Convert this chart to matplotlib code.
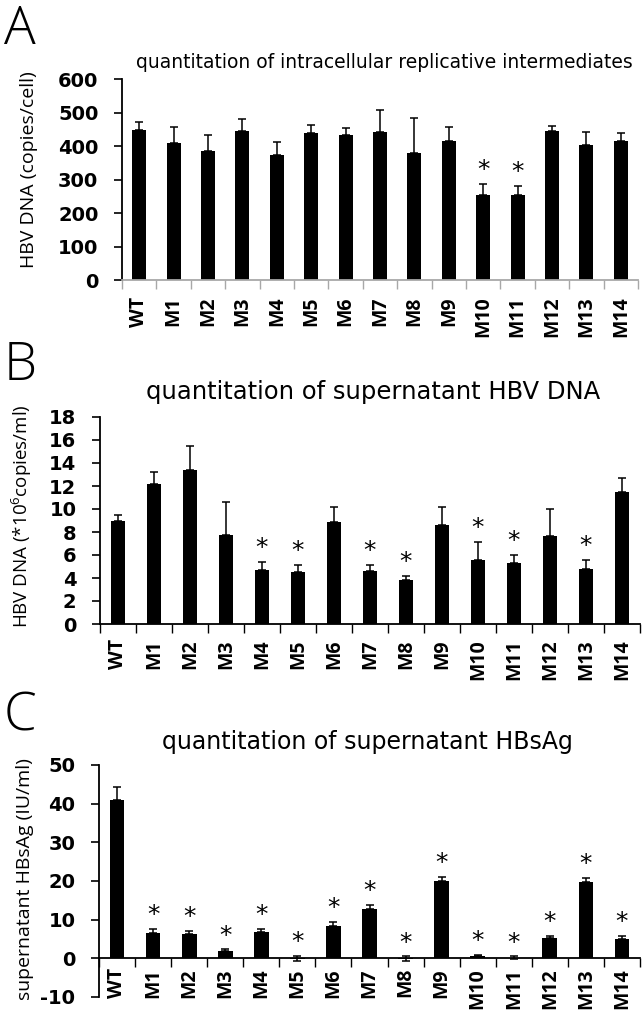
import numpy as np
import matplotlib
matplotlib.use("Agg")
import matplotlib.pyplot as plt

plt.rcParams['mathtext.default'] = 'regular'

# categories shared by the three panels
cats = ['WT', 'M1', 'M2', 'M3', 'M4', 'M5', 'M6', 'M7', 'M8', 'M9',
        'M10', 'M11', 'M12', 'M13', 'M14']

# A: intracellular replicative intermediates (copies/cell)
a_vals = [448, 408, 386, 446, 373, 438, 432, 441, 378, 414, 254, 254, 446, 404, 414]
a_err = [25, 50, 47, 34, 38, 24, 23, 66, 106, 44, 33, 26, 14, 37, 25]
a_star = ['M10', 'M11']

# B: supernatant HBV DNA (*10^6 copies/ml)
b_vals = [8.93, 12.2, 13.36, 7.71, 4.67, 4.49, 8.87, 4.58, 3.8, 8.58, 5.6, 5.3, 7.62, 4.78, 11.45]
b_err = [0.58, 1.0, 2.1, 2.93, 0.7, 0.67, 1.33, 0.58, 0.35, 1.56, 1.53, 0.72, 2.4, 0.81, 1.27]
b_star = ['M4', 'M5', 'M7', 'M8', 'M10', 'M11', 'M13']

# C: supernatant HBsAg (IU/ml)
c_vals = [40.9, 6.5, 6.3, 1.9, 6.7, -0.1, 8.4, 12.8, -0.1, 20.1, 0.6, 0.2, 5.3, 19.7, 5.0]
c_err_hi = [3.5, 1.2, 0.8, 0.4, 0.8, 0.7, 0.9, 1.0, 0.6, 0.9, 0.2, 0.3, 0.5, 1.0, 0.9]
c_err_lo = [0, 0, 0, 0, 0, 0.7, 0, 0, 0.6, 0, 0, 0.3, 0, 0, 0]
c_star = cats[1:]

W, H = 642, 1019
fig = plt.figure(figsize=(W / 100, H / 100), dpi=100)


def box(l, r, t, b):
    return [l / W, 1 - b / H, (r - l) / W, (b - t) / H]


tick_font = dict(family='DejaVu Sans', weight='bold', size=14)
xlab_font = dict(family='Open Sans', weight='bold', size=14)


def panel(rect, vals, err_lo, err_hi, stars, ylim, yticks, xcolor, xpad, zero_axis=False):
    ax = fig.add_axes(rect)
    if zero_axis:
        # x axis runs through y = 0, set before ticks are styled
        ax.spines['bottom'].set_position(('data', 0))
    x = np.arange(len(cats))
    ax.bar(x, vals, width=0.41, color='black', zorder=2)
    ax.errorbar(x, vals, yerr=[err_lo, err_hi], fmt='none', ecolor='black',
                elinewidth=1.1, capsize=3, capthick=1.1, zorder=3)
    for i, c in enumerate(cats):
        if c in stars:
            top = max(vals[i] + err_hi[i], 0)
            ax.annotate('*', (i, top), xytext=(0, 10), textcoords='offset points',
                        ha='center', va='center', fontsize=18, family='DejaVu Sans')
    ax.set_xlim(-0.5, len(cats) - 0.5)
    ax.set_ylim(*ylim)
    ax.set_yticks(yticks)
    ax.set_yticklabels([str(v) for v in yticks], fontdict=tick_font)
    ax.set_xticks(x)
    ax.set_xticklabels(cats, rotation=90, fontdict=xlab_font)
    ax.set_xticks(np.arange(-0.5, len(cats)), minor=True)
    ax.tick_params(axis='x', which='major', length=0, pad=xpad)
    ax.tick_params(axis='x', which='minor', length=6.5, direction='out', color=xcolor, width=1)
    ax.tick_params(axis='y', length=6, width=1.2, pad=11)
    for s in ['top', 'right']:
        ax.spines[s].set_visible(False)
    ax.spines['left'].set_linewidth(1.3)
    ax.spines['bottom'].set_color(xcolor)
    ax.spines['bottom'].set_linewidth(1.3)
    return ax


# panel A
axA = panel(box(122, 638, 79, 280), a_vals, [0] * 15, a_err, a_star,
            (0, 600), list(range(0, 601, 100)), '#a8a8a8', 12)
axA.set_ylabel('HBV DNA (copies/cell)', fontsize=14, family='Open Sans')
axA.yaxis.set_label_coords(38 / W, 1 - 170 / H, transform=fig.transFigure)

# panel B
axB = panel(box(100, 640, 417, 624), b_vals, [0] * 15, b_err, b_star,
            (0, 18), list(range(0, 19, 2)), 'black', 11)
axB.set_ylabel('HBV DNA (*10$^6$copies/ml)', fontsize=13.5, family='Open Sans')
axB.yaxis.set_label_coords(34 / W, 1 - 516 / H, transform=fig.transFigure)

# panel C
axC = panel(box(99, 640, 765, 997), c_vals, c_err_lo, c_err_hi, c_star,
            (-10, 50), list(range(-10, 51, 10)), 'black', 7, zero_axis=True)
axC.set_ylabel('supernatant HBsAg (IU/ml)', fontsize=14, family='Open Sans')
axC.yaxis.set_label_coords(34 / W, 1 - 879 / H, transform=fig.transFigure)

# titles
fig.text(384 / W, 1 - 63 / H, 'quantitation of intracellular replicative intermediates',
         ha='center', va='center', fontsize=13.5, family='DejaVu Sans')
fig.text(373 / W, 1 - 392 / H, 'quantitation of supernatant HBV DNA',
         ha='center', va='center', fontsize=17.5, family='DejaVu Sans')
fig.text(367 / W, 1 - 742 / H, 'quantitation of supernatant HBsAg',
         ha='center', va='center', fontsize=17, family='DejaVu Sans')

# panel letters
for letter, top in [('A', 3), ('B', 340), ('C', 690)]:
    fig.text(4 / W, 1 - top / H, letter, ha='left', va='top', fontsize=38,
             family='Open Sans', fontweight='light')

fig.savefig('out.png', dpi=100)
